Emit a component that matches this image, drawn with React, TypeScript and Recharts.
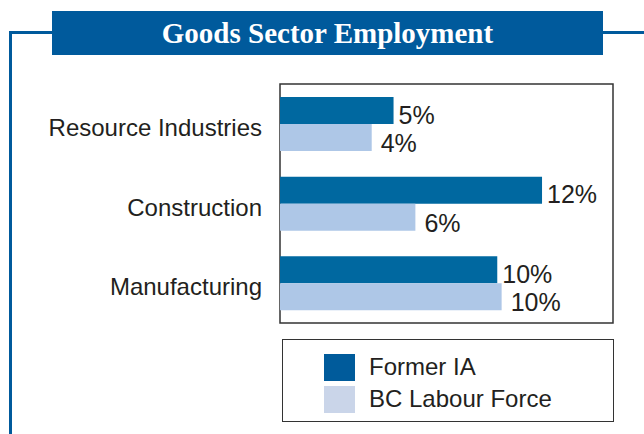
import React from 'react';
import { BarChart, Bar, XAxis, YAxis, Legend, LabelList, ReferenceArea } from 'recharts';

// categories (top to bottom) and series values in %
const categories = ['Resource Industries', 'Construction', 'Manufacturing'];
const formerIA = [5.2, 12.0, 9.95];
const bcLabourForce = [4.2, 6.2, 10.15];
const seriesNames = ['Former IA', 'BC Labour Force'];

const BAR_COLORS = ['#0068a0', '#aec7e7'];
const SWATCH_COLORS = ['#005b9b', '#cad5e9'];
const FRAME = '#005a9c';
const TEXT = '#231f20';
const X_MAX = 15.25;

const data = categories.map((name, i) => ({
  name,
  former: formerIA[i],
  bc: bcLabourForce[i],
}));

const CategoryTick = (props: any) => {
  const { x, y, payload } = props;
  return (
    <text x={x} y={y} dy={12} textAnchor="end" fill={TEXT}
      style={{ fontFamily: 'Liberation Sans, Arial, sans-serif', fontSize: 24 }}>
      {payload.value}
    </text>
  );
};

// value label to the right of each bar
const makeLabel = (gap: number, drop: number) => (props: any) => {
  const { x, y, width, height, value } = props;
  return (
    <text x={x + width + gap} y={y + height / 2 + drop} fill={TEXT}
      style={{ fontFamily: 'Liberation Sans, Arial, sans-serif', fontSize: 25 }}>
      {Math.round(value)}%
    </text>
  );
};

const LegendBox = (props: any) => {
  // keep the series order, the legend sorts by name otherwise
  const items = [...(props.payload || [])].sort(
    (a: any, b: any) => seriesNames.indexOf(a.value) - seriesNames.indexOf(b.value)
  );
  return (
    <div style={{ paddingTop: 11, paddingLeft: 41 }}>
      {items.map((entry: any) => {
        const i = seriesNames.indexOf(entry.value);
        return (
          <div key={entry.value} style={{ display: 'flex', alignItems: 'center', height: 32 }}>
            <div style={{ width: 31, height: 27, background: SWATCH_COLORS[i], marginRight: 14 }} />
            <span style={{ fontFamily: 'Liberation Sans, Arial, sans-serif', fontSize: 24, color: TEXT }}>
              {entry.value}
            </span>
          </div>
        );
      })}
    </div>
  );
};

export default function App() {
  return (
    <div style={{ position: 'absolute', left: 0, top: 0, width: 644, height: 434, background: '#fff', overflow: 'hidden' }}>
      {/* blue frame */}
      <div style={{ position: 'absolute', left: 9, top: 31, width: 3, height: 403, background: FRAME }} />
      <div style={{ position: 'absolute', left: 9, top: 31, width: 44, height: 3, background: FRAME }} />
      <div style={{ position: 'absolute', left: 602, top: 31, width: 42, height: 3, background: FRAME }} />
      {/* title */}
      <div style={{
        position: 'absolute', left: 52, top: 11, width: 551, height: 44, background: FRAME,
        color: '#fff', fontFamily: 'Liberation Serif, Times New Roman, serif', fontWeight: 'bold',
        fontSize: 29, lineHeight: '44px', textAlign: 'center',
      }}>
        Goods Sector Employment
      </div>

      <BarChart
        width={644}
        height={434}
        data={data}
        layout="vertical"
        margin={{ top: 84, right: 31, bottom: 111, left: 0 }}
        barGap={0}
        barSize={27}
        style={{ position: 'absolute', left: 0, top: 0 }}
      >
        <XAxis type="number" domain={[0, X_MAX]} hide />
        <YAxis type="category" dataKey="name" width={280} axisLine={false} tickLine={false}
          tickSize={0} tickMargin={18} tick={<CategoryTick />} />
        <ReferenceArea x1={0} x2={X_MAX} fill="none" stroke="#333" strokeWidth={1.5}
          fillOpacity={0} ifOverflow="visible" />
        <Bar dataKey="former" name={seriesNames[0]} fill={BAR_COLORS[0]} isAnimationActive={false}>
          <LabelList dataKey="former" content={makeLabel(5, 13)} />
        </Bar>
        <Bar dataKey="bc" name={seriesNames[1]} fill={BAR_COLORS[1]} isAnimationActive={false}>
          <LabelList dataKey="bc" content={makeLabel(9, 14.5)} />
        </Bar>
        <Legend
          layout="vertical"
          align="center"
          verticalAlign="middle"
          content={<LegendBox />}
          wrapperStyle={{
            left: 282, top: 339, width: 332, height: 83, boxSizing: 'border-box',
            border: '1.5px solid #333', background: '#fff',
          }}
        />
      </BarChart>
    </div>
  );
}
